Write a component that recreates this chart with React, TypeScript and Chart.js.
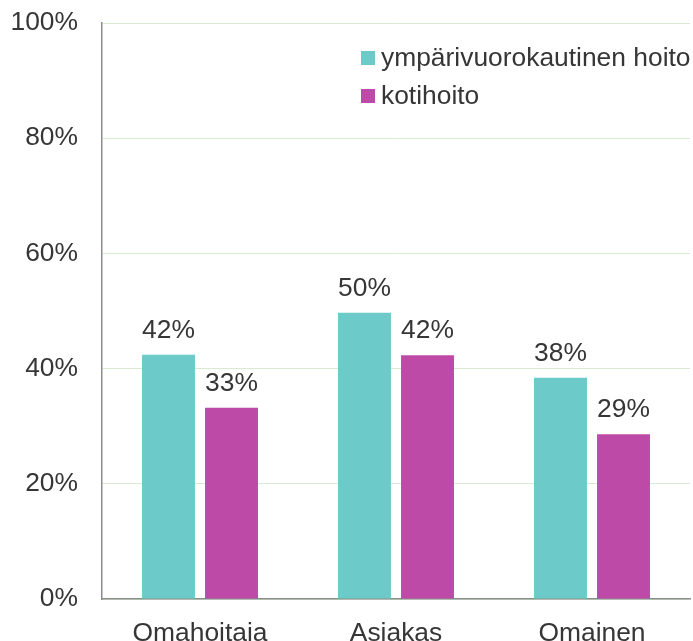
import React, { useEffect, useRef } from "react";
import { Chart, registerables } from "chart.js";

Chart.register(...registerables);

const categories = ["Omahoitaja", "Asiakas", "Omainen"];
const seriesNames = ["ympärivuorokautinen hoito", "kotihoito"];
const ymparivuorokautinen = [42.4, 49.7, 38.4];
const kotihoito = [33.2, 42.3, 28.6];
const valueLabels = [
  ["42%", "50%", "38%"],
  ["33%", "42%", "29%"],
];
const yTicks = [0, 20, 40, 60, 80, 100];

const TEAL = "#6CCAC8";
const MAGENTA = "#BD4AA7";
const TEXT = "#363636";
const FAMILY = "'Liberation Sans', Arial, sans-serif";
const SIZE = 26.4;
const FONT = `${SIZE}px ${FAMILY}`;

const dataLabelPlugin = {
  id: "dataLabels",
  afterDatasetsDraw(chart: any) {
    const ctx = chart.ctx;
    ctx.save();
    ctx.font = FONT;
    ctx.fillStyle = TEXT;
    ctx.textAlign = "center";
    ctx.textBaseline = "alphabetic";
    chart.data.datasets.forEach((ds: any, di: number) => {
      const meta = chart.getDatasetMeta(di);
      meta.data.forEach((el: any, i: number) => {
        ctx.fillText(valueLabels[di][i], el.x, el.y - 17);
      });
    });
    ctx.restore();
  },
};

const legendPlugin = {
  id: "customLegend",
  afterDraw(chart: any) {
    const ctx = chart.ctx;
    ctx.save();
    ctx.font = FONT;
    ctx.textAlign = "left";
    ctx.textBaseline = "middle";
    const colors = [TEAL, MAGENTA];
    seriesNames.forEach((name, i) => {
      const y = 58 + i * 38;
      ctx.fillStyle = colors[i];
      ctx.fillRect(361, y - 7, 14, 14);
      ctx.fillStyle = TEXT;
      ctx.fillText(name, 381, y + 1);
    });
    ctx.restore();
  },
};

export default function App() {
  const ref = useRef<HTMLCanvasElement>(null);
  useEffect(() => {
    if (!ref.current) return;
    const chart = new Chart(ref.current, {
      type: "bar",
      data: {
        labels: categories,
        datasets: [
          {
            label: seriesNames[0],
            data: ymparivuorokautinen,
            backgroundColor: TEAL,
            categoryPercentage: 0.643,
            barPercentage: 0.84,
          },
          {
            label: seriesNames[1],
            data: kotihoito,
            backgroundColor: MAGENTA,
            categoryPercentage: 0.643,
            barPercentage: 0.84,
          },
        ],
      },
      options: {
        animation: false,
        responsive: false,
        maintainAspectRatio: false,
        layout: { padding: { left: 0, right: 3, top: 23, bottom: 0 } },
        plugins: {
          legend: { display: false },
          tooltip: { enabled: false },
        },
        scales: {
          x: {
            grid: { display: false, drawTicks: false },
            border: { display: true, color: "#8c8c8c", width: 1.5 },
            ticks: {
              color: TEXT,
              font: { family: FAMILY, size: SIZE },
              padding: 19,
            },
            afterFit(scale: any) {
              scale.height = 42;
              scale.paddingLeft = 0;
              scale.paddingRight = 0;
            },
          },
          y: {
            min: 0,
            max: 100,
            grid: { color: "#d9ead3", lineWidth: 1, drawTicks: false },
            border: { display: true, color: "#8c8c8c", width: 1.5 },
            afterBuildTicks(scale: any) {
              scale.ticks = yTicks.map((v) => ({ value: v }));
            },
            ticks: {
              color: TEXT,
              font: { family: FAMILY, size: SIZE },
              padding: 24,
              callback: (v: any) => v + "%",
            },
            afterFit(scale: any) {
              scale.width = 102;
              scale.paddingTop = 0;
              scale.paddingBottom = 0;
            },
          },
        },
      },
      plugins: [dataLabelPlugin, legendPlugin],
    });
    return () => chart.destroy();
  }, []);
  return (
    <div style={{ position: "fixed", left: 0, top: 0, width: 693, height: 641, background: "#fff" }}>
      <canvas ref={ref} width={693} height={641} style={{ width: 693, height: 641, display: "block" }} />
    </div>
  );
}
